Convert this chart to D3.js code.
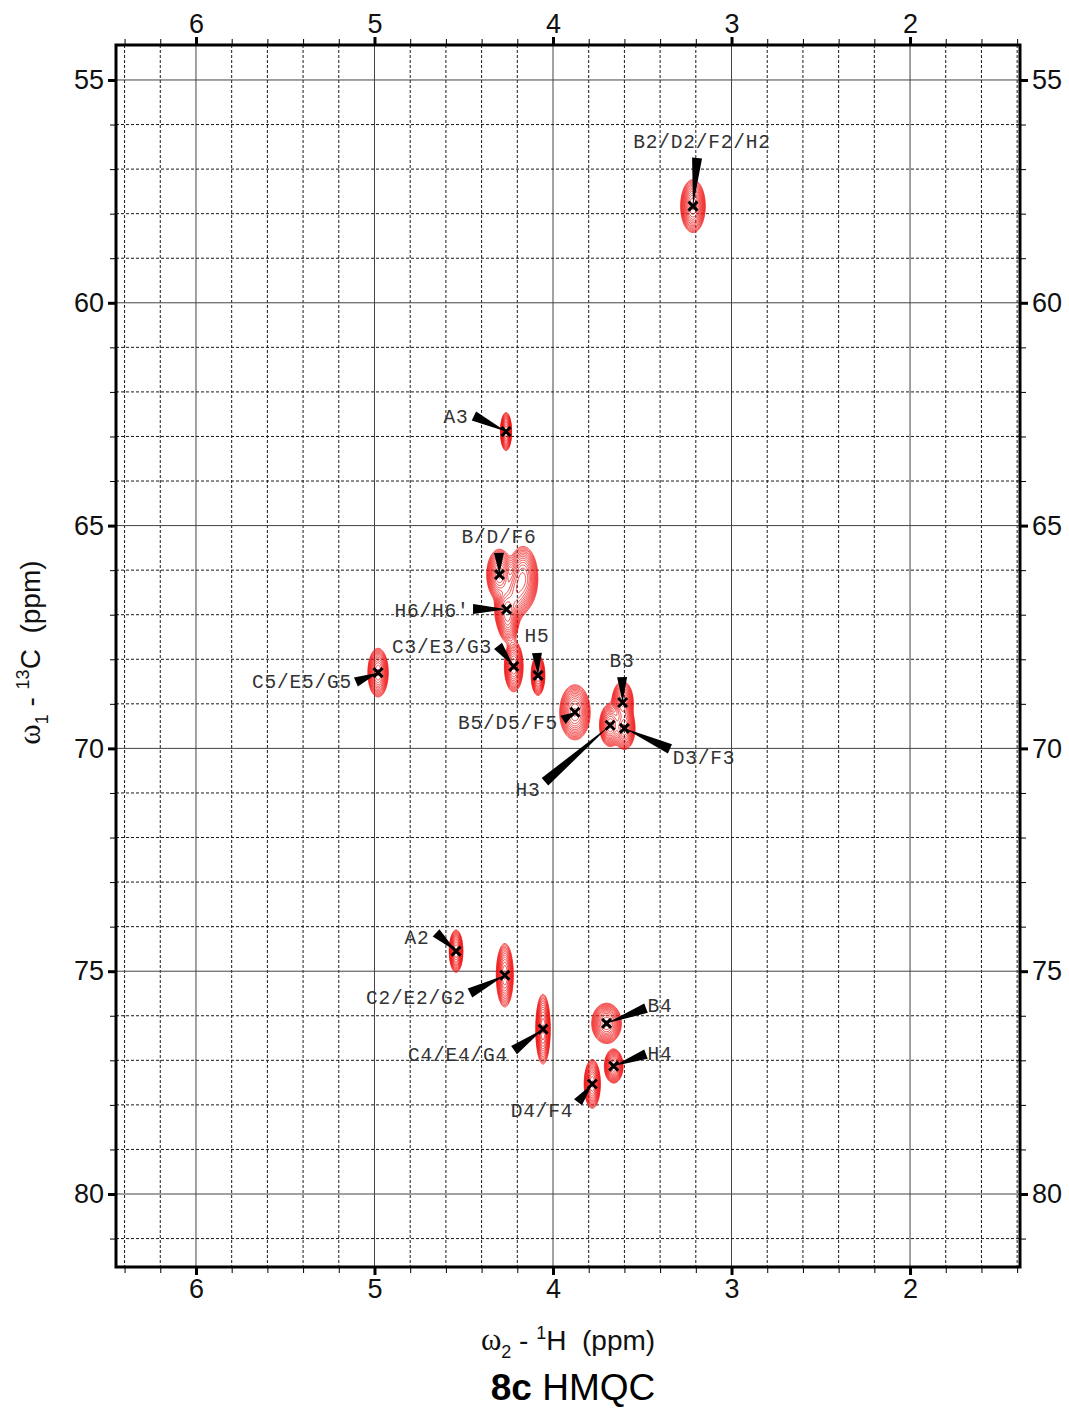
<!DOCTYPE html>
<html>
<head>
<meta charset="utf-8">
<script src="https://cdn.jsdelivr.net/npm/d3@7"></script>
<style>
  body { margin: 0; background: #fff; }
  text { font-family: "Liberation Sans", Arial, sans-serif; }
  .lab { font-family: "Liberation Mono", "Courier New", monospace; font-size: 19.5px; letter-spacing: 0.8px; fill: #333; }
</style>
</head>
<body>
<svg id="chart" width="1069" height="1408"></svg>
<script>
// cross peaks: 1H shift, 13C shift (ppm)
var peakNames = ['B2/D2/F2/H2', 'A3', 'B/D/F6', "H6/H6'", 'C3/E3/G3', 'H5', 'C5/E5/G5', 'B5/D5/F5',
                 'B3', 'H3', 'D3/F3', 'A2', 'C2/E2/G2', 'C4/E4/G4', 'B4', 'H4', 'D4/F4']
var peakH = [3.216, 4.263, 4.30, 4.26, 4.22, 4.084, 4.98, 3.877, 3.61, 3.68, 3.60, 4.543, 4.27, 4.056, 3.70, 3.66, 3.78]
var peakC = [57.83, 62.89, 66.10, 66.88, 68.16, 68.36, 68.30, 69.19, 68.97, 69.48, 69.55, 74.55, 75.09, 76.30, 76.17, 77.13, 77.53]
// line widths (ppm, gaussian sigma)
var widthH = [0.029, 0.013, 0.03, 0.028, 0.022, 0.016, 0.024, 0.036, 0.025, 0.025, 0.025, 0.016, 0.02, 0.017, 0.035, 0.022, 0.019]
var widthC = [0.25, 0.18, 0.24, 0.22, 0.24, 0.19, 0.23, 0.26, 0.2, 0.2, 0.2, 0.2, 0.3, 0.33, 0.19, 0.16, 0.23]

// unlabelled shoulders in the 6-position cluster
var extraH = [4.168, 4.21, 4.25]
var extraC = [66.18, 66.55, 67.2]
var extraWH = [0.035, 0.03, 0.025]
var extraWC = [0.3, 0.25, 0.2]
var extraAmp = [1, 0.6, 0.5]

// where each label sits and where its pointer starts (ppm)
var labelH = [3.165, 4.543, 4.303, 4.678, 4.622, 4.09, 5.406, 4.252, 3.613, 4.14, 3.154, 4.762, 4.768, 4.532, 3.40, 3.40, 4.062]
var labelC = [56.41, 62.585, 65.28, 66.94, 67.75, 67.5, 68.53, 69.45, 68.06, 70.96, 70.24, 74.28, 75.62, 76.90, 75.80, 76.88, 78.16]
var tailH = [3.193, 4.443, 4.303, 4.448, 4.308, 4.09, 5.104, 3.944, 3.613, 4.045, 3.345, 4.655, 4.465, 4.218, 3.479, 3.479, 3.86]
var tailC = [56.75, 62.54, 65.615, 66.87, 67.70, 67.86, 68.51, 69.36, 68.40, 70.75, 70.01, 74.14, 75.49, 76.77, 75.83, 76.86, 77.94]

var hTicks = [6, 5, 4, 3, 2]
var cTicks = [55, 60, 65, 70, 75, 80]
var hDomain = [6.448, 1.384]
var cDomain = [54.215, 81.638]

var m = {left: 116, top: 45, right: 49, bottom: 141}
var W = 1069, H = 1408
var pw = W - m.left - m.right, ph = H - m.top - m.bottom

var svg = d3.select('#chart')
var x = d3.scaleLinear().domain(hDomain).range([0, pw])
var y = d3.scaleLinear().domain(cDomain).range([0, ph])

var g = svg.append('g').attr('transform', `translate(${m.left},${m.top})`)

// grid
var minorH = d3.range(7, 33).map(k => k / 5)
var minorC = d3.range(55, 82)
var isInt = d => Math.abs(d - Math.round(d)) < 1e-6
var grid = g.append('g')
grid.selectAll('line.v').data(minorH).join('line')
  .attr('x1', d => x(d)).attr('x2', d => x(d)).attr('y1', 0).attr('y2', ph)
  .attr('stroke', d => isInt(d) ? '#444' : '#1a1a1a')
  .attr('stroke-width', 1)
  .attr('stroke-dasharray', d => isInt(d) ? null : '3,2')
grid.selectAll('line.h').data(minorC).join('line')
  .attr('y1', d => y(d)).attr('y2', d => y(d)).attr('x1', 0).attr('x2', pw)
  .attr('stroke', d => d % 5 == 0 ? '#444' : '#1a1a1a')
  .attr('stroke-width', 1)
  .attr('stroke-dasharray', d => d % 5 == 0 ? null : '3,2')

// contours from a sum of gaussians on a pixel grid
var nx = Math.round(pw), ny = Math.round(ph)
var field = new Float64Array(nx * ny)
var allPeaks = peakH.map((h, i) => ({h, c: peakC[i], wh: widthH[i], wc: widthC[i], a: 1}))
  .concat(extraH.map((h, i) => ({h, c: extraC[i], wh: extraWH[i], wc: extraWC[i], a: extraAmp[i]})))
allPeaks.forEach(p => {
  var cx = x(p.h), cy = y(p.c)
  var sx = p.wh * Math.abs(x(0) - x(1)), sy = p.wc * Math.abs(y(1) - y(0))
  var i0 = Math.max(0, Math.floor(cx - 4 * sx)), i1 = Math.min(nx - 1, Math.ceil(cx + 4 * sx))
  var j0 = Math.max(0, Math.floor(cy - 4 * sy)), j1 = Math.min(ny - 1, Math.ceil(cy + 4 * sy))
  for (var j = j0; j <= j1; j++) {
    var dy = (j + 0.5 - cy) / sy
    for (var i = i0; i <= i1; i++) {
      var dx = (i + 0.5 - cx) / sx
      field[j * nx + i] += p.a * Math.exp(-0.5 * (dx * dx + dy * dy))
    }
  }
})
var levels = d3.range(14).map(k => 0.06 * Math.pow(0.95 / 0.06, k / 13))
var contours = d3.contours().size([nx, ny]).thresholds(levels)(field)
g.append('g').selectAll('path').data(contours).join('path')
  .attr('d', d3.geoPath())
  .attr('fill', 'none')
  .attr('stroke', '#f01010')
  .attr('stroke-width', 0.8)

// pointers
var wedges = g.append('g')
peakNames.forEach((name, i) => {
  var tx = x(peakH[i]), ty = y(peakC[i])
  var bx = x(tailH[i]), by = y(tailC[i])
  var dx = tx - bx, dy = ty - by, len = Math.hypot(dx, dy)
  var nxv = -dy / len * 5, nyv = dx / len * 5
  wedges.append('path')
    .attr('d', `M${bx + nxv},${by + nyv}L${tx},${ty}L${bx - nxv},${by - nyv}Z`)
    .attr('fill', '#000')
})

// peak markers
var cross = g.append('g').selectAll('g').data(peakNames.map((n, i) => i)).join('g')
  .attr('transform', i => `translate(${x(peakH[i])},${y(peakC[i])})`)
cross.append('path').attr('d', 'M-4.5,-4.5L4.5,4.5M-4.5,4.5L4.5,-4.5')
  .attr('stroke', '#000').attr('stroke-width', 3)

// labels
g.append('g').selectAll('text').data(peakNames).join('text')
  .attr('class', 'lab')
  .attr('x', (d, i) => x(labelH[i]))
  .attr('y', (d, i) => y(labelC[i]))
  .attr('text-anchor', 'middle')
  .attr('dominant-baseline', 'central')
  .text(d => d)

// frame
g.append('rect').attr('width', pw).attr('height', ph)
  .attr('fill', 'none').attr('stroke', '#000').attr('stroke-width', 3)

// axes: minor ticks then major ticks with labels, on all four sides
function styleAxis(sel, major) {
  sel.select('.domain').remove()
  sel.selectAll('.tick line').attr('stroke', '#000').attr('stroke-width', major ? 3 : 1)
  sel.selectAll('.tick text').attr('font-size', 27).attr('fill', '#111')
    .attr('font-family', '"Liberation Sans", Arial, sans-serif')
}
var fmt = d3.format('d')
g.append('g').attr('transform', `translate(0,${ph})`)
  .call(d3.axisBottom(x).tickValues(minorH).tickSize(6).tickFormat('')).call(s => styleAxis(s, false))
g.append('g').attr('transform', `translate(0,${ph})`)
  .call(d3.axisBottom(x).tickValues(hTicks).tickSize(8).tickPadding(4).tickFormat(fmt)).call(s => styleAxis(s, true))
g.append('g')
  .call(d3.axisTop(x).tickValues(minorH).tickSize(6).tickFormat('')).call(s => styleAxis(s, false))
g.append('g')
  .call(d3.axisTop(x).tickValues(hTicks).tickSize(8).tickPadding(4).tickFormat(fmt)).call(s => styleAxis(s, true))
g.append('g')
  .call(d3.axisLeft(y).tickValues(minorC).tickSize(6).tickFormat('')).call(s => styleAxis(s, false))
g.append('g')
  .call(d3.axisLeft(y).tickValues(cTicks).tickSize(8).tickPadding(4).tickFormat(fmt)).call(s => styleAxis(s, true))
g.append('g').attr('transform', `translate(${pw},0)`)
  .call(d3.axisRight(y).tickValues(minorC).tickSize(6).tickFormat('')).call(s => styleAxis(s, false))
g.append('g').attr('transform', `translate(${pw},0)`)
  .call(d3.axisRight(y).tickValues(cTicks).tickSize(8).tickPadding(4).tickFormat(fmt)).call(s => styleAxis(s, true))

// axis titles
var yl = svg.append('text')
  .attr('transform', `translate(40,${m.top + y(67.85)}) rotate(-90)`)
  .attr('text-anchor', 'middle').attr('font-size', 28).attr('fill', '#111')
yl.append('tspan').attr('font-family', '"Liberation Serif", serif').attr('font-size', 31).text('ω')
yl.append('tspan').attr('font-size', 18).attr('dy', 8).text('1')
yl.append('tspan').attr('dy', -8).text(' - ')
yl.append('tspan').attr('font-size', 18).attr('dy', -11).text('13')
yl.append('tspan').attr('dy', 11).text('C\u00a0\u00a0(ppm)')

var xl = svg.append('text')
  .attr('x', 568).attr('y', 1350)
  .attr('text-anchor', 'middle').attr('font-size', 28).attr('fill', '#111')
xl.append('tspan').attr('font-family', '"Liberation Serif", serif').attr('font-size', 31).text('ω')
xl.append('tspan').attr('font-size', 18).attr('dy', 8).text('2')
xl.append('tspan').attr('dy', -8).text(' - ')
xl.append('tspan').attr('font-size', 18).attr('dy', -11).text('1')
xl.append('tspan').attr('dy', 11).text('H\u00a0\u00a0(ppm)')

var tl = svg.append('text')
  .attr('x', 573).attr('y', 1400)
  .attr('text-anchor', 'middle').attr('font-size', 37).attr('fill', '#000')
tl.append('tspan').attr('font-weight', 'bold').text('8c')
tl.append('tspan').text(' HMQC')
</script>
</body>
</html>
